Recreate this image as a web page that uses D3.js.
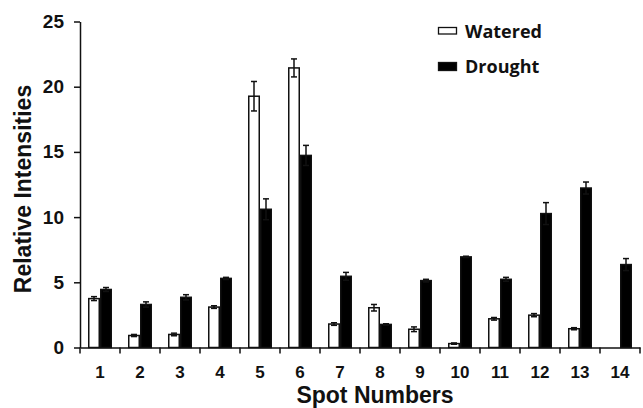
<!DOCTYPE html>
<html>
<head>
<meta charset="utf-8">
<script src="https://cdn.jsdelivr.net/npm/d3@7"></script>
<style>
  html, body { margin: 0; padding: 0; background: #fff; }
  svg { display: block; }
</style>
</head>
<body>
<svg id="chart" width="643" height="408"></svg>
<script>
const spots = ["1","2","3","4","5","6","7","8","9","10","11","12","13","14"];
const seriesNames = ["Watered", "Drought"];
const watered    = [3.75, 0.92, 1.0, 3.1, 19.27, 21.44, 1.8, 3.05, 1.4, 0.3, 2.2, 2.48, 1.44, 0];
const wateredErr = [0.15, 0.08, 0.1, 0.1, 1.13, 0.69, 0.1, 0.25, 0.18, 0.05, 0.1, 0.12, 0.08, 0];
const drought    = [4.45, 3.3, 3.85, 5.3, 10.6, 14.73, 5.46, 1.77, 5.13, 6.95, 5.23, 10.27, 12.23, 6.36];
const droughtErr = [0.15, 0.2, 0.2, 0.08, 0.8, 0.77, 0.3, 0.05, 0.1, 0.05, 0.15, 0.84, 0.46, 0.46];
const yTicks = [0, 5, 10, 15, 20, 25];

const svg = d3.select("#chart");
const x = d3.scaleBand().domain(spots).range([80, 640]).paddingInner(0).paddingOuter(0);
const x1 = d3.scaleBand().domain(seriesNames).range([0, x.bandwidth()]).paddingInner(0).paddingOuter(2/3);
const y = d3.scaleLinear().domain([0, 25]).range([347.5, 21.5]);

const data = [];
spots.forEach((s, i) => {
  data.push({spot: s, series: "Watered", v: watered[i], e: wateredErr[i]});
  data.push({spot: s, series: "Drought", v: drought[i], e: droughtErr[i]});
});
const fills = {Watered: "#fff", Drought: "#000"};

// bars
svg.append("g").selectAll("rect")
  .data(data.filter(d => d.v > 0))
  .join("rect")
  .attr("x", d => x(d.spot) + x1(d.series) + 0.75)
  .attr("width", x1.bandwidth() - 1.5)
  .attr("y", d => y(d.v))
  .attr("height", d => y(0) - y(d.v))
  .attr("fill", d => fills[d.series])
  .attr("stroke", "#111")
  .attr("stroke-width", 1.5);

// error bars
const eg = svg.append("g").attr("stroke", "#111").attr("stroke-width", 1.5);
data.filter(d => d.v > 0 && d.e > 0).forEach(d => {
  const cx = x(d.spot) + x1(d.series) + x1.bandwidth() / 2;
  const top = y(d.v + d.e), bot = y(d.v - d.e);
  eg.append("line").attr("x1", cx).attr("x2", cx).attr("y1", top).attr("y2", bot);
  eg.append("line").attr("x1", cx - 3).attr("x2", cx + 3).attr("y1", top).attr("y2", top);
  eg.append("line").attr("x1", cx - 3).attr("x2", cx + 3).attr("y1", bot).attr("y2", bot);
});

// y axis
const yAxis = svg.append("g").attr("transform", "translate(80,0)")
  .call(d3.axisLeft(y).tickValues(yTicks).tickSize(6).tickPadding(10).tickSizeOuter(0));
yAxis.select(".domain").attr("stroke", "#111").attr("stroke-width", 1.5);
yAxis.selectAll(".tick line").attr("stroke", "#111").attr("stroke-width", 1.5);
yAxis.selectAll(".tick text")
  .attr("font-family", "Liberation Sans, Arial, sans-serif")
  .attr("font-weight", "bold").attr("font-size", 19).attr("fill", "#111");

// x axis
const xAxis = svg.append("g").attr("transform", `translate(0,${y(0)})`)
  .call(d3.axisBottom(x).tickSize(0).tickPadding(18).tickSizeOuter(0));
xAxis.select(".domain").attr("stroke", "#111").attr("stroke-width", 1.5);
xAxis.selectAll(".tick text")
  .attr("font-family", "Liberation Sans, Arial, sans-serif")
  .attr("font-weight", "bold").attr("font-size", 17).attr("fill", "#111");
const edges = spots.map(s => x(s)).concat([x(spots[spots.length - 1]) + x.bandwidth()]);
xAxis.selectAll(".edge").data(edges).join("line")
  .attr("class", "edge")
  .attr("x1", d => d).attr("x2", d => d)
  .attr("y1", 0).attr("y2", 6)
  .attr("stroke", "#111").attr("stroke-width", 1.5);

// axis titles
svg.append("text")
  .attr("transform", "translate(30.5,189) rotate(-90)")
  .attr("text-anchor", "middle")
  .attr("font-family", "Liberation Sans, Arial, sans-serif")
  .attr("font-weight", "bold").attr("font-size", 23).attr("fill", "#111")
  .text("Relative Intensities");
svg.append("text")
  .attr("x", 375).attr("y", 402.5)
  .attr("text-anchor", "middle")
  .attr("font-family", "Liberation Sans, Arial, sans-serif")
  .attr("font-weight", "bold").attr("font-size", 23).attr("fill", "#111")
  .text("Spot Numbers");

// legend
const legend = svg.append("g");
const legY = {Watered: 38.3, Drought: 73};
seriesNames.forEach(s => {
  const by = legY[s];
  legend.append("rect")
    .attr("x", 438.5).attr("y", s === "Watered" ? 27.5 : 62.5)
    .attr("width", 18).attr("height", s === "Watered" ? 6.5 : 8)
    .attr("fill", fills[s]).attr("stroke", "#111").attr("stroke-width", 1.3);
  legend.append("text")
    .attr("x", 465).attr("y", by)
    .attr("font-family", "Open Sans, Noto Sans, sans-serif")
    .attr("font-weight", "bold").attr("font-size", 18).attr("fill", "#111")
    .text(s);
});
</script>
</body>
</html>
